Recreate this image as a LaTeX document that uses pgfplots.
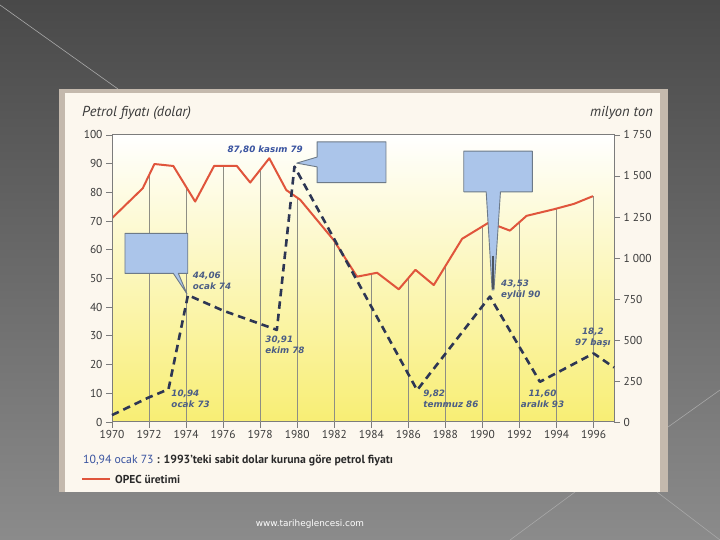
\documentclass[border=0pt]{standalone}
\usepackage{fontspec}
\setmainfont{PT Sans}
\newfontfamily\webfont{DejaVu Sans}
\newfontfamily\annotfont{DejaVu Sans}
\usepackage{pgfplots}
\pgfplotsset{compat=1.18}

\definecolor{bgtop}{HTML}{494949}
\definecolor{bgbot}{HTML}{8B8B8B}
\definecolor{decoline}{HTML}{A8A8A8}
\definecolor{frame}{HTML}{C4B9AD}
\definecolor{cream}{HTML}{FCF7EE}
\definecolor{plotyellow}{HTML}{F8EE74}
\definecolor{axgray}{HTML}{7C7C7C}
\definecolor{ticktext}{HTML}{3A3A3A}
\definecolor{dropgray}{HTML}{8E8E84}
\definecolor{opecred}{HTML}{E0553C}
\definecolor{pricenavy}{HTML}{2D3654}
\definecolor{boxblue}{HTML}{ABC5EA}
\definecolor{boxedge}{HTML}{6D7A88}
\definecolor{annotgray}{HTML}{4B5D85}
\definecolor{annotblue}{HTML}{3953A0}
\definecolor{legtext}{HTML}{2A2A2A}

\tikzset{
  annot/.style={text=annotgray,inner sep=0pt,font=\annotfont\fontsize{8.8}{11.2}\selectfont\bfseries\itshape},
  callout/.style={fill=boxblue,draw=boxedge,line width=0.9bp,line join=round},
}

\begin{document}
\begin{tikzpicture}[x=1bp,y=1bp]
\useasboundingbox (0,0) rectangle (720,540);
% slide background
\shade[top color=bgtop,bottom color=bgbot] (0,0) rectangle (720,540);
\draw[decoline,line width=0.6bp] (0,535) -- (118,451);
\draw[decoline,line width=0.6bp] (668,113) -- (720,150);
\draw[decoline,line width=0.6bp] (657,48) -- (720,0);
\draw[decoline,line width=0.6bp] (575,48) -- (510,0);
% chart panel
\fill[frame] (59,48) rectangle (668,451);
\fill[cream] (65,48) rectangle (660,447);

% production (right axis)
\begin{axis}[
  at={(112bp,118bp)}, anchor=south west,
  scale only axis, width=502bp, height=287bp,
  xmin=1970, xmax=1997.1, ymin=0, ymax=1750,
  axis background/.style={top color=white,bottom color=plotyellow},
  axis line style={draw=axgray,line width=1bp},
  xtick pos=bottom, ytick pos=right,
  tick align=outside, major tick length=6bp,
  tick style={draw=axgray,line width=0.9bp},
  xtick={1970,1972,...,1996},
  xticklabels={1970,1972,1974,1976,1978,1980,1982,1984,1986,1988,1990,1992,1994,1996},
  ytick={0,250,...,1750},
  yticklabels={0,250,500,750,1 000,1 250,1 500,1 750},
  ticklabel style={font=\fontsize{11.5}{13}\selectfont,text=ticktext},
  xticklabel style={yshift=1.5bp},
]
\addplot[ycomb,draw=dropgray,line width=0.7bp,no marks] coordinates {
  (1972,1505) (1974,1433) (1976,1561) (1978,1538) (1980,1367) (1982,1104)
  (1984,903) (1986,877) (1988,950) (1990,1194) (1992,1218) (1994,1302) (1996,1377)
};
\addplot[draw=opecred,line width=2bp,line join=round,no marks] coordinates {
  (1970.00,1243) (1971.66,1425) (1972.29,1573) (1973.31,1561) (1974.49,1344)
  (1975.51,1561) (1976.74,1561) (1977.46,1460) (1978.49,1608) (1979.41,1414)
  (1980.16,1355) (1981.96,1110) (1983.23,886) (1984.31,910) (1985.48,809)
  (1986.38,928) (1987.37,835) (1988.90,1117) (1990.34,1216) (1991.48,1167)
  (1992.38,1257) (1993.85,1297) (1994.94,1330) (1995.96,1377)
};
\end{axis}

% price (left axis)
\begin{axis}[
  at={(112bp,118bp)}, anchor=south west,
  scale only axis, width=502bp, height=287bp,
  xmin=1970, xmax=1997.1, ymin=0, ymax=100,
  axis y line*=left, axis x line=none, clip=false,
  axis line style={draw=axgray,line width=1bp},
  tick align=outside, major tick length=6bp,
  tick style={draw=axgray,line width=0.9bp},
  ytick={0,10,...,100},
  /pgf/number format/assume math mode=true,
  ticklabel style={font=\fontsize{11.5}{13}\selectfont,text=ticktext},
]
\addplot[draw=pricenavy,line width=2.6bp,dash pattern=on 7.5bp off 5bp,line join=round,no marks] coordinates {
  (1970.00,2.4) (1972.00,8.6) (1973.05,11.4) (1974.10,44.2) (1976.00,38.8)
  (1978.90,32.1) (1979.85,89.0) (1986.47,11.1) (1990.40,43.7) (1993.10,14.0)
  (1996.00,23.9) (1997.10,19.0)
};
% callout boxes
\filldraw[callout]
  (axis cs:1981.07,97.6) -- (axis cs:1984.79,97.6) -- (axis cs:1984.79,83.4)
  -- (axis cs:1981.07,83.4) -- (axis cs:1981.07,88.9) -- (axis cs:1979.97,90.2)
  -- (axis cs:1981.07,92.3) -- cycle;
\filldraw[callout]
  (axis cs:1970.70,65.7) -- (axis cs:1974.09,65.7) -- (axis cs:1974.09,51.8)
  -- (axis cs:1973.58,51.8) -- (axis cs:1974.05,44.6) -- (axis cs:1973.31,51.8)
  -- (axis cs:1970.70,51.8) -- cycle;
\filldraw[callout]
  (axis cs:1988.99,94.4) -- (axis cs:1992.69,94.4) -- (axis cs:1992.69,80.2)
  -- (axis cs:1990.97,80.2) -- (axis cs:1990.62,46.0) -- (axis cs:1990.52,46.0)
  -- (axis cs:1990.20,80.2) -- (axis cs:1988.99,80.2) -- cycle;
\draw[boxedge!70!black,line width=1.4bp] (axis cs:1990.57,58) -- (axis cs:1990.57,46.3);
% value labels
\node[annot,text=annotblue] at (axis cs:1978.27,94.8) {87,80 kasım 79};
\node[annot,anchor=west,align=left] at (axis cs:1974.36,49.3) {44,06\\ocak 74};
\node[annot,anchor=west,align=left] at (axis cs:1978.27,26.8) {30,91\\ekim 78};
\node[annot,anchor=west,align=left] at (axis cs:1973.20,8.0) {10,94\\ocak 73};
\node[annot,anchor=west,align=left] at (axis cs:1986.80,8.0) {9,82\\temmuz 86};
\node[annot,anchor=west,align=left] at (axis cs:1991.00,46.0) {43,53\\eylül 90};
\node[annot,align=center] at (axis cs:1993.24,8.0) {11,60\\aralık 93};
\node[annot,align=center] at (axis cs:1995.96,29.4) {18,2\\97 başı};
\end{axis}

% axis titles
\node[anchor=west,inner sep=0pt,text=ticktext,font=\fontsize{14.5}{16}\selectfont\itshape] at (82,427) {Petrol fiyatı (dolar)};
\node[anchor=east,inner sep=0pt,text=ticktext,font=\fontsize{14.5}{16}\selectfont\itshape] at (653,427) {milyon ton};
% key
\node[anchor=west,inner sep=0pt,text=legtext,font=\fontsize{11.8}{13}\selectfont\bfseries] at (83,79)
  {{\color{annotblue}\mdseries 10,94 ocak 73} : 1993'teki sabit dolar kuruna göre petrol fiyatı};
\draw[opecred,line width=2bp] (82,61) -- (110,61);
\node[anchor=west,inner sep=0pt,text=legtext,font=\fontsize{11.5}{13}\selectfont\bfseries] at (115,61) {OPEC üretimi};
% site name
\node[inner sep=0pt,text=white,font=\webfont\fontsize{8.9}{10}\selectfont] at (310,16) {www.tariheglencesi.com};
\end{tikzpicture}
\end{document}
